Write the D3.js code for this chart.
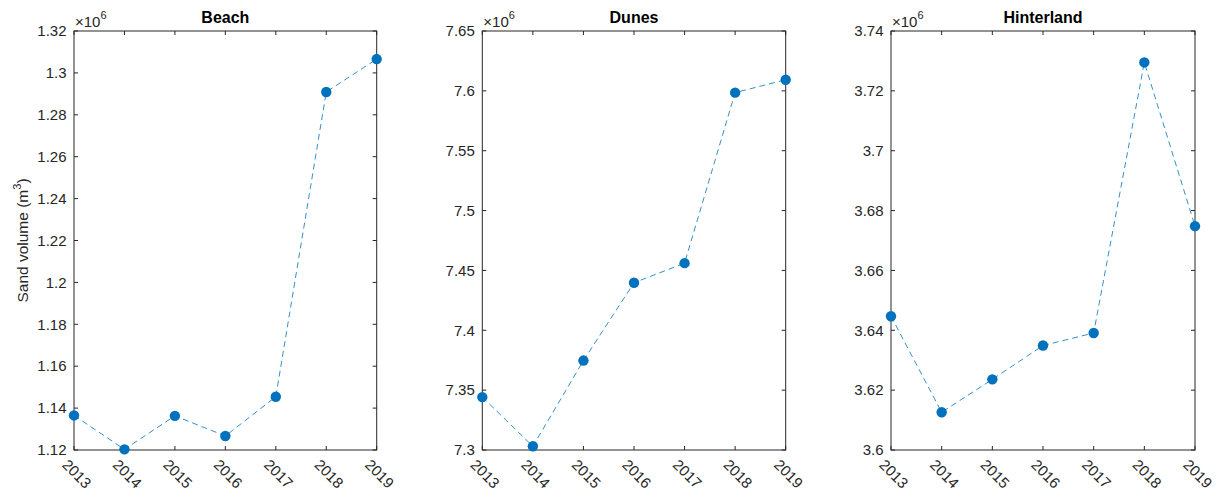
<!DOCTYPE html>
<html>
<head>
<meta charset="utf-8">
<script src="https://cdn.jsdelivr.net/npm/d3@7"></script>
<style>
  body { margin: 0; background: #fff; }
  text { font-family: "Liberation Sans", Arial, sans-serif; fill: #262626; }
</style>
</head>
<body>
<div id="chart"></div>
<script>
// years on the x axis
var years = [2013, 2014, 2015, 2016, 2017, 2018, 2019];

// sand volume, in units of 10^6 m3
var beach = [1.1365, 1.1203, 1.1363, 1.1267, 1.1454, 1.2909, 1.3066];
var dunes = [7.3442, 7.3031, 7.3747, 7.4397, 7.4561, 7.5985, 7.6093];
var hinterland = [3.6447, 3.6126, 3.6236, 3.6349, 3.6391, 3.7295, 3.6748];

var beachTicks = [1.12, 1.14, 1.16, 1.18, 1.2, 1.22, 1.24, 1.26, 1.28, 1.3, 1.32];
var dunesTicks = [7.3, 7.35, 7.4, 7.45, 7.5, 7.55, 7.6, 7.65];
var hinterlandTicks = [3.6, 3.62, 3.64, 3.66, 3.68, 3.7, 3.72, 3.74];

var titles = ['Beach', 'Dunes', 'Hinterland'];

var width = 1220;
var height = 492;
var axTop = 31, axBottom = 450;

var panels = [
    { title: titles[0], values: beach, ticks: beachTicks, left: 74, right: 376.7 },
    { title: titles[1], values: dunes, ticks: dunesTicks, left: 482.3, right: 785.7 },
    { title: titles[2], values: hinterland, ticks: hinterlandTicks, left: 891, right: 1195 }
];

var svg = d3.select('#chart')
    .append('svg')
    .attr('width', width)
    .attr('height', height);

var blue = '#0072BD';
var ink = '#262626';

panels.forEach(function (p, idx) {
    var x = d3.scaleLinear().domain([2013, 2019]).range([p.left, p.right]);
    var y = d3.scaleLinear()
        .domain([p.ticks[0], p.ticks[p.ticks.length - 1]])
        .range([axBottom, axTop]);

    var g = svg.append('g');

    // inward ticks on all four sides
    var tl = 4;
    g.selectAll('.tb').data(years).enter().append('line')
        .attr('x1', d => x(d)).attr('x2', d => x(d))
        .attr('y1', axBottom).attr('y2', axBottom - tl)
        .attr('stroke', ink);
    g.selectAll('.tt').data(years).enter().append('line')
        .attr('x1', d => x(d)).attr('x2', d => x(d))
        .attr('y1', axTop).attr('y2', axTop + tl)
        .attr('stroke', ink);
    g.selectAll('.tlft').data(p.ticks).enter().append('line')
        .attr('x1', p.left).attr('x2', p.left + tl)
        .attr('y1', d => y(d)).attr('y2', d => y(d))
        .attr('stroke', ink);
    g.selectAll('.trgt').data(p.ticks).enter().append('line')
        .attr('x1', p.right).attr('x2', p.right - tl)
        .attr('y1', d => y(d)).attr('y2', d => y(d))
        .attr('stroke', ink);

    // box
    g.append('rect')
        .attr('x', p.left).attr('y', axTop)
        .attr('width', p.right - p.left).attr('height', axBottom - axTop)
        .attr('fill', 'none').attr('stroke', ink).attr('stroke-width', 1);

    // y tick labels
    g.selectAll('.yl').data(p.ticks).enter().append('text')
        .attr('x', p.left - 7.5)
        .attr('y', d => y(d))
        .attr('dy', '0.35em')
        .attr('text-anchor', 'end')
        .style('font-size', '15px')
        .text(d => String(+d.toFixed(2)));

    // x tick labels, rotated
    g.selectAll('.xl').data(years).enter().append('text')
        .attr('transform', d => 'translate(' + (x(d) - 9) + ',' + (axBottom + 12) + ') rotate(45)')
        .attr('dy', '0.35em')
        .attr('text-anchor', 'start')
        .style('font-size', '15px')
        .text(d => d);

    // exponent
    var ex = g.append('text')
        .attr('x', p.left + 1)
        .attr('y', 27)
        .style('font-size', '15px');
    ex.append('tspan').text('\u00d710');
    ex.append('tspan').attr('dy', -8).style('font-size', '11px').text('6');

    // title
    g.append('text')
        .attr('x', (p.left + p.right) / 2)
        .attr('y', 23)
        .attr('text-anchor', 'middle')
        .style('font-size', '16px')
        .style('font-weight', 'bold')
        .style('fill', '#000')
        .text(p.title);

    // dashed line
    var line = d3.line()
        .x((d, i) => x(years[i]))
        .y(d => y(d));
    g.append('path')
        .datum(p.values)
        .attr('d', line)
        .attr('fill', 'none')
        .attr('stroke', blue)
        .attr('stroke-width', 0.8)
        .attr('stroke-dasharray', '6,4');

    g.selectAll('circle').data(p.values).enter().append('circle')
        .attr('cx', (d, i) => x(years[i]))
        .attr('cy', d => y(d))
        .attr('r', 5.2)
        .attr('fill', blue);

    if (idx === 0) {
        var yl = g.append('text')
            .attr('transform', 'translate(28,' + ((axTop + axBottom) / 2) + ') rotate(-90)')
            .attr('text-anchor', 'middle')
            .style('font-size', '15.5px');
        yl.append('tspan').text('Sand volume (m');
        yl.append('tspan').attr('dy', -7).style('font-size', '11px').text('3');
        yl.append('tspan').attr('dy', 7).text(')');
    }
});
</script>
</body>
</html>
